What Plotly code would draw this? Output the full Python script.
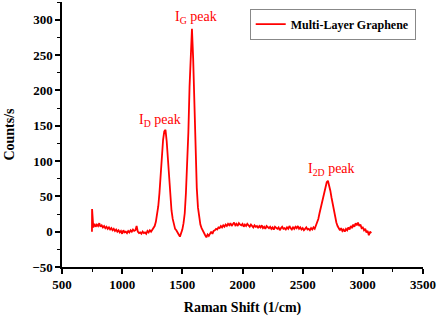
import plotly.graph_objects as go

raman_shift = [749] + list(range(750, 3071, 10))
counts = [0,
    32, 6, 11, 7, 10, 8, 12, 7, 9, 6,
    8, 5, 7, 4, 6, 3, 5, 2, 4, 1,
    3, 0, 2, -1, 1, -3, 2, -1, 0, -2,
    1, -1, 2, 0, 3, 1, 2, 8, 0, -2,
    -1, -3, 0, -2, -1, -3, 1, -1, 2, 0,
    3, 4, 8, 14, 24, 36, 55, 80, 108, 130,
    142, 144, 128, 100, 72, 48, 30, 18, 10, 4,
    2, -2, -4, -7, -3, 3, 12, 26, 55, 95,
    140, 205, 262, 287, 245, 175, 110, 62, 34, 18,
    10, 5, 1, -3, -5, -8, -4, -6, -2, 0,
    -3, 1, 2, 4, 3, 6, 5, 8, 6, 9,
    7, 10, 8, 11, 9, 12, 8, 10, 13, 9,
    11, 8, 12, 10, 9, 11, 7, 10, 8, 11,
    9, 7, 10, 8, 6, 9, 7, 8, 5, 8,
    6, 9, 5, 7, 4, 8, 6, 5, 7, 4,
    6, 3, 7, 5, 4, 6, 2, 5, 7, 4,
    5, 3, 6, 4, 8, 5, 3, 6, 4, 7,
    5, 8, 4, 6, 3, 5, 2, 4, 6, 3,
    4, 2, 5, 3, 6, 4, 8, 12, 18, 26,
    34, 40, 48, 56, 64, 70, 72, 66, 58, 48,
    38, 28, 20, 13, 8, 5, 2, 5, 1, 3,
    0, 4, 2, 6, 3, 8, 5, 10, 7, 12,
    9, 13, 8, 10, 5, 6, 2, 4, -1, 1,
    -5, 0, -2]

peak_labels = ["I<sub>D</sub> peak", "I<sub>G</sub> peak", "I<sub>2D</sub> peak"]
peak_x = [1318, 1616, 2740]
peak_y = [158, 303, 88]

x_ticks = [500, 1000, 1500, 2000, 2500, 3000, 3500]
y_ticks = [-50, 0, 50, 100, 150, 200, 250, 300]

red = "#ff0000"
font_family = "Times New Roman, Liberation Serif, serif"

fig = go.Figure()
fig.add_trace(go.Scatter(x=raman_shift, y=counts, mode="lines",
                         line=dict(color=red, width=1.8),
                         name="<b>Multi-Layer Graphene</b>"))

for lab, px, py in zip(peak_labels, peak_x, peak_y):
    fig.add_annotation(x=px, y=py, text=lab, showarrow=False,
                       font=dict(family=font_family, size=14, color=red))

axis_common = dict(showline=True, linecolor="black", linewidth=1.5,
                   ticks="outside", ticklen=5, tickwidth=1.5, tickcolor="black",
                   showgrid=False, zeroline=False,
                   tickfont=dict(family=font_family, size=13, color="black", weight="bold"))

fig.update_xaxes(range=[500, 3500], tickvals=x_ticks,
                 minor=dict(ticks="outside", ticklen=3, tickwidth=1.2, tickcolor="black", dtick=250, tick0=500),
                 title=dict(text="<b>Raman Shift (1/cm)</b>", standoff=12,
                            font=dict(family=font_family, size=14, color="black")),
                 **axis_common)
fig.update_yaxes(range=[-50, 325], tickvals=y_ticks,
                 minor=dict(ticks="outside", ticklen=3, tickwidth=1.2, tickcolor="black", dtick=25, tick0=0),
                 title=dict(text="<b>Counts/s</b>", standoff=14,
                            font=dict(family=font_family, size=14, color="black")),
                 **axis_common)

fig.update_layout(width=438, height=316,
                  margin=dict(l=62, r=15, t=2, b=47),
                  plot_bgcolor="white", paper_bgcolor="white",
                  font=dict(family=font_family),
                  showlegend=True,
                  legend=dict(x=0.52, y=0.975, xanchor="left", yanchor="top",
                              bordercolor="#888888", borderwidth=1, bgcolor="white",
                              font=dict(family=font_family, size=12, color="black"),
                              tracegroupgap=0, itemwidth=30))

fig.write_html("out.html", config={"displayModeBar": False},
               post_script="document.body.style.margin='0';document.body.style.padding='0';")
